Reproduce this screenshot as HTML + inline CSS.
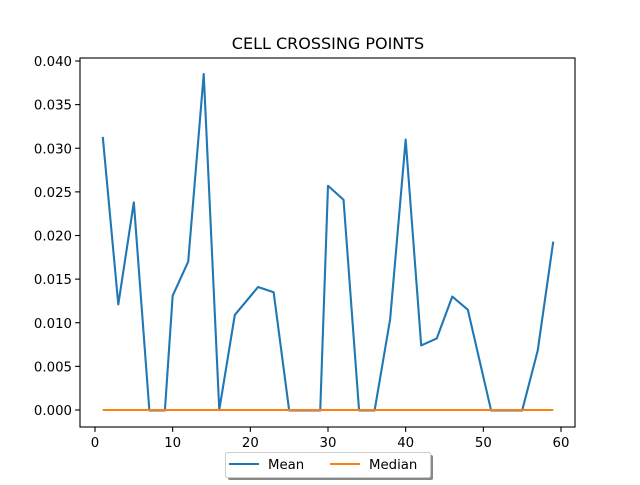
<!DOCTYPE html>
<html><head><meta charset="utf-8"><style>
body{margin:0;background:#fff;font-family:"Liberation Sans","DejaVu Sans",sans-serif}
</style></head><body>
<svg width="640" height="480" id="svg" font-family="DejaVu Sans, Liberation Sans, sans-serif">
<rect width="640" height="480" fill="#fff"/>
<text x="328" y="49" font-size="16" text-anchor="middle">CELL CROSSING POINTS</text>
<g id="plot"></g>
</svg>
<script>
const xs=[1,3,5,7,9,10,12,14,16,18,21,23,25,29,30,32,34,36,38,40,42,44,46,48,51,55,57,59];
const meanVals=[0.0313,0.0121,0.0238,-0.00005,-0.00005,0.0131,0.0170,0.0385,0,0.0109,0.0141,0.0135,-0.00005,-0.00005,0.0257,0.0241,-0.00005,-0.00005,0.0104,0.0310,0.0074,0.0082,0.0130,0.0115,-0.00005,-0.00005,0.0068,0.0193];
const medianVals=xs.map(()=>0);
const xTicks=[0,10,20,30,40,50,60];
const yTicks=[0,0.005,0.01,0.015,0.02,0.025,0.03,0.035,0.04];
const L=80,R=575,T=58,B=427;
const X=v=>95+(v)*(561-95)/60;
const Y=v=>410-v*(410-61)/0.04;
const g=document.getElementById('plot');
const NS='http://www.w3.org/2000/svg';
function mk(t,a){const e=document.createElementNS(NS,t);for(const k in a)e.setAttribute(k,a[k]);g.appendChild(e);return e;}
xTicks.forEach(t=>{
 const l=mk('line',{x1:X(t),x2:X(t),y1:B,y2:B+4.9,stroke:'#000','stroke-width':1.1});
 
 
 const s=mk('text',{x:X(t),y:B+20,'font-size':13.3,'text-anchor':'middle'});s.textContent=t;
 
 
});
yTicks.forEach(t=>{
 const l=mk('line',{x1:L-4.9,x2:L,y1:Y(t),y2:Y(t),stroke:'#000','stroke-width':1.1});
 
 
 const s=mk('text',{x:L-8,y:Y(t)+5,'font-size':13.3,'text-anchor':'end'});s.textContent=t.toFixed(3);
 
 
});
const pm=mk('polyline',{points:xs.map((x,i)=>X(x)+','+Y(meanVals[i])).join(' '),fill:'none',stroke:'#1f77b4','stroke-width':2.1,'stroke-linejoin':'round'});


const pd=mk('polyline',{points:xs.map((x,i)=>X(x)+','+Y(medianVals[i])).join(' '),fill:'none',stroke:'#ff7f0e','stroke-width':2.1});


const fr=mk('rect',{x:L,y:T,width:R-L,height:B-T,fill:'none',stroke:'#000','stroke-width':1.1});


const sh=mk('rect',{x:228,y:455,width:205,height:25,fill:'#888',rx:2});


const lg=mk('rect',{x:225.5,y:452.5,width:205,height:25,fill:'#fff',stroke:'#ccc',rx:2});


[['Mean','#1f77b4',229],['Median','#ff7f0e',330]].forEach(([n,c,x])=>{
 const l=mk('line',{x1:x,x2:x+30,y1:464,y2:464,stroke:c,'stroke-width':2.1});
 
 
 const s=mk('text',{x:x+39,y:469,'font-size':13.3});s.textContent=n;
 
 
});
</script>
</body></html>
